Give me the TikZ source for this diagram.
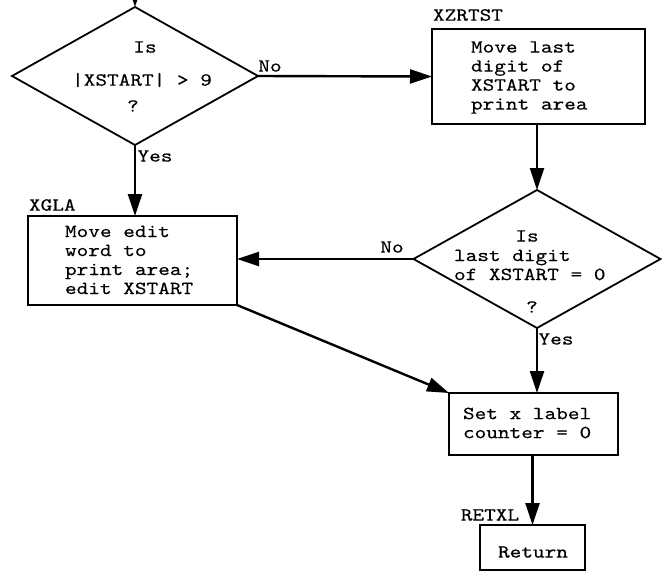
\documentclass[tikz,border=0pt]{standalone}
\usepackage{fontspec}
\newfontfamily\tw{lmmono10-regular.otf}[FakeStretch=1.2,FakeBold=0.3]
\usetikzlibrary{arrows.meta,shapes.geometric}
\begin{document}
\begin{tikzpicture}[x=1pt,y=-1pt,
  every node/.style={inner sep=0pt, outer sep=0pt},
  txt/.style={font=\tw\fontsize{18.5}{19}\selectfont, align=left, anchor=west},
  lbl/.style={font=\tw\fontsize{18.5}{19}\selectfont},
  procbox/.style={draw, line width=1.8pt, rectangle},
  decision/.style={draw, line width=1.8pt, diamond},
  flow/.style={line width=2.4pt, -{Triangle[length=22pt,width=14pt]}}]
\useasboundingbox (0,0) rectangle (666,571);

% decision: |XSTART| > 9
\node[decision, minimum width=246pt, minimum height=138pt] (d1) at (135,76) {};
\node[lbl] (d1a) at (145,47) {Is};
\node[lbl] (d1b) at (142,80) {|XSTART| > 9};
\node[lbl] (d1c) at (133,106) {?};

% XZRTST
\node[procbox, minimum width=213pt, minimum height=95pt] (xz) at (538.5,76.5) {};
\node[txt] (xzt) at (471,77.5) {Move last\\digit of\\XSTART to\\print area};
\node[lbl, anchor=west] (xzl) at (433,15) {XZRTST};

% decision: last digit = 0
\node[decision, minimum width=247pt, minimum height=138pt] (d2) at (537,259) {};
\node[lbl] (d2a) at (527,236) {Is};
\node[txt] (d2b) at (454,265) {last digit\\of XSTART = 0};
\node[lbl] (d2c) at (532,307) {?};

% XGLA
\node[procbox, minimum width=209pt, minimum height=89pt] (xg) at (132.5,260.5) {};
\node[txt] (xgt) at (65,260) {Move edit\\word to\\print area;\\edit XSTART};
\node[lbl, anchor=west] (xgl) at (29,205) {XGLA};

% set label counter
\node[procbox, minimum width=169pt, minimum height=62pt] (set) at (533.5,424) {};
\node[txt] (sett) at (463,423) {Set x label\\counter = 0};

% RETXL
\node[procbox, minimum width=105pt, minimum height=45pt] (ret) at (532.5,547.5) {};
\node[lbl] (rett) at (533,552) {Return};
\node[lbl] (retl) at (490,515) {RETXL};

% connectors
\coordinate (entry) at (135,0);
\draw[flow] (entry) -- (d1.north);
\draw[flow] (d1.east) -- (xz.west);
\draw[flow] (d1.south) -- (d1.south |- xg.north);
\draw[flow] (d2.north |- xz.south) -- (d2.north);
\draw[flow] (d2.west) -- (d2.west -| xg.east);
\draw[flow] (d2.south) -- (d2.south |- set.north);
\draw[flow] (xg.south east) -- (set.north west);
\draw[flow] (ret.north |- set.south) -- (ret.north);

% branch labels
\node[lbl] (no1) at (270,66) {No};
\node[lbl] (yes1) at (155,156) {Yes};
\node[lbl] (no2) at (392,247) {No};
\node[lbl] (yes2) at (556,339) {Yes};
\end{tikzpicture}
\end{document}
